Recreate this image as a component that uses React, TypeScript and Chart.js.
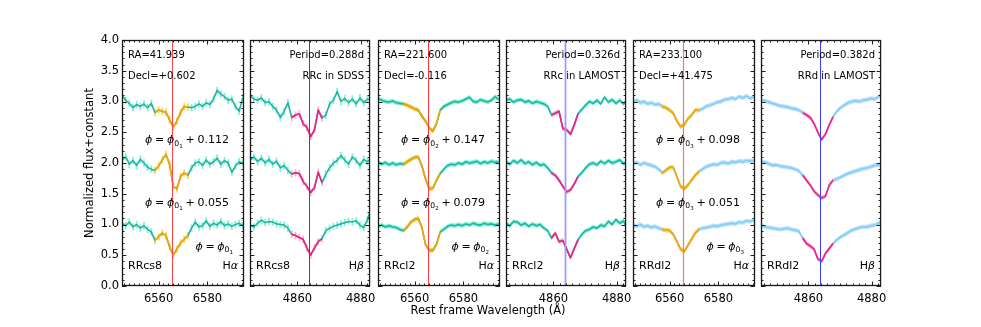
import React, { useEffect, useRef } from "react";
import { Chart, registerables } from "chart.js";

Chart.register(...registerables);

// ---------------- data ----------------
const HA_WAVE = [6545.0, 6546.5, 6548.0, 6549.5, 6551.0, 6552.5, 6554.0, 6555.5, 6557.0, 6558.5, 6560.0, 6561.5, 6563.0, 6564.5, 6566.0, 6567.5, 6569.0, 6570.5, 6572.0, 6573.5, 6575.0, 6576.5, 6578.0, 6579.5, 6581.0, 6582.5, 6584.0, 6585.5, 6587.0, 6588.5, 6590.0, 6591.5, 6593.0, 6594.5];
const HB_WAVE = [4845.0, 4846.2, 4847.4, 4848.6, 4849.8, 4851.0, 4852.2, 4853.4, 4854.6, 4855.8, 4857.0, 4858.2, 4859.4, 4860.6, 4861.8, 4863.0, 4864.2, 4865.4, 4866.6, 4867.8, 4869.0, 4870.2, 4871.4, 4872.6, 4873.8, 4875.0, 4876.2, 4877.4, 4878.6, 4879.8, 4881.0, 4882.2, 4883.4];
const HA_RANGE = [6545, 6595];
const HB_RANGE = [4845, 4883];
const HA_TICKS = [6560, 6580];
const HB_TICKS = [4860, 4880];
const Y_TICKS = [0, 0.5, 1, 1.5, 2, 2.5, 3, 3.5, 4];
const LINE_CENTERS = [6565.3, 4863.7];

// RRcs8 H-alpha (SDSS)
const P1_LOW = [1.02, 0.98, 1.04, 0.96, 1.00, 0.94, 0.98, 0.92, 0.88, 0.74, 0.80, 0.86, 0.82, 0.64, 0.50, 0.60, 0.70, 0.76, 0.82, 0.94, 1.04, 0.96, 0.98, 1.06, 0.97, 1.02, 0.99, 1.05, 0.98, 1.01, 0.97, 1.00, 1.02, 0.98];
const P1_MID = [2.05, 2.10, 1.98, 2.04, 1.96, 2.06, 2.00, 1.93, 1.90, 1.88, 1.95, 2.05, 2.14, 1.98, 1.62, 1.58, 1.78, 1.84, 1.80, 1.92, 2.00, 2.02, 1.96, 2.05, 1.98, 2.02, 2.08, 1.98, 2.04, 2.00, 1.85, 1.95, 2.02, 2.00];
const P1_TOP = [3.10, 3.02, 2.97, 2.90, 2.95, 2.92, 2.96, 2.90, 2.97, 2.82, 2.86, 2.84, 2.83, 2.70, 2.58, 2.68, 2.82, 2.92, 2.91, 2.90, 2.92, 2.96, 2.92, 2.98, 2.95, 3.04, 3.18, 3.12, 3.08, 3.02, 3.04, 2.92, 2.84, 3.06];
// RRcs8 H-beta (SDSS)
const P2_LOW = [0.99, 0.96, 1.02, 1.07, 1.03, 1.05, 1.04, 1.01, 1.00, 0.99, 0.94, 0.84, 0.82, 0.79, 0.76, 0.62, 0.50, 0.62, 0.72, 0.77, 0.90, 0.94, 0.97, 0.99, 1.01, 1.03, 1.05, 1.04, 1.06, 0.99, 0.95, 1.08, 1.28];
const P2_MID = [2.04, 2.10, 2.02, 2.08, 2.00, 2.06, 1.98, 2.03, 1.92, 1.96, 1.88, 1.82, 1.84, 1.83, 1.70, 1.62, 1.52, 1.60, 1.85, 1.68, 1.82, 1.92, 2.00, 2.04, 2.12, 2.05, 1.98, 2.10, 2.04, 1.96, 2.06, 2.02, 2.08];
const P2_TOP = [3.10, 3.04, 3.02, 3.06, 2.98, 3.00, 2.92, 2.86, 2.74, 2.84, 2.98, 2.74, 2.78, 2.80, 2.64, 2.58, 2.43, 2.54, 2.86, 2.73, 2.78, 2.96, 3.02, 3.16, 3.00, 3.05, 2.98, 3.04, 2.96, 3.06, 2.98, 3.04, 3.02];
// RRcl2 H-alpha (LAMOST)
const P3_LOW = [0.97, 0.99, 0.96, 0.98, 0.96, 0.95, 0.92, 0.90, 0.96, 1.04, 1.08, 1.10, 0.95, 0.67, 0.58, 0.58, 0.68, 0.88, 0.92, 0.97, 0.99, 0.98, 1.00, 0.98, 1.01, 0.99, 1.02, 1.00, 0.99, 1.02, 1.00, 1.01, 0.99, 1.01];
const P3_MID = [2.02, 1.98, 2.01, 1.97, 2.00, 1.97, 1.99, 1.98, 2.02, 2.06, 2.09, 2.10, 1.95, 1.74, 1.58, 1.59, 1.72, 1.83, 1.90, 1.96, 1.98, 1.97, 2.00, 1.98, 2.02, 2.00, 2.01, 2.03, 1.99, 2.02, 2.00, 2.03, 2.01, 2.02];
const P3_TOP = [3.05, 3.02, 3.00, 2.99, 3.01, 2.98, 2.97, 2.96, 2.94, 2.91, 2.88, 2.86, 2.76, 2.68, 2.57, 2.52, 2.64, 2.86, 2.92, 2.95, 2.98, 3.00, 2.99, 3.01, 3.04, 3.07, 3.00, 2.99, 3.03, 3.01, 2.99, 3.02, 3.08, 3.03];
// RRcl2 H-beta (LAMOST)
const P4_LOW = [1.02, 0.98, 1.05, 1.04, 0.99, 1.02, 0.97, 1.01, 0.98, 1.00, 0.94, 0.90, 0.78, 0.86, 0.72, 0.74, 0.60, 0.46, 0.61, 0.75, 0.84, 0.90, 0.92, 0.96, 0.94, 0.99, 0.97, 1.05, 1.00, 1.08, 1.02, 1.06, 0.93];
const P4_MID = [2.02, 1.98, 2.04, 2.00, 2.05, 1.99, 2.02, 1.97, 2.01, 1.96, 1.98, 1.92, 1.84, 1.80, 1.72, 1.62, 1.53, 1.56, 1.66, 1.78, 1.84, 1.92, 1.98, 2.00, 1.97, 2.03, 1.99, 2.04, 2.00, 2.02, 2.05, 1.99, 2.01];
const P4_TOP = [3.02, 3.04, 2.99, 3.02, 3.03, 2.99, 3.01, 2.97, 3.00, 2.98, 2.96, 2.92, 2.78, 2.81, 2.84, 2.56, 2.54, 2.47, 2.62, 2.80, 2.87, 2.94, 3.00, 2.97, 3.02, 2.96, 3.07, 2.99, 3.03, 2.97, 3.02, 2.96, 3.03];
// RRdl2 H-alpha (LAMOST)
const P5_LOW = [0.99, 0.97, 1.00, 0.96, 0.98, 0.95, 0.97, 0.94, 0.92, 0.91, 0.90, 0.84, 0.72, 0.60, 0.56, 0.66, 0.76, 0.86, 0.92, 0.94, 0.95, 0.96, 0.98, 0.97, 0.99, 1.00, 1.01, 1.02, 1.01, 1.04, 1.03, 1.06, 1.05, 1.07];
const P5_MID = [1.99, 2.01, 1.97, 2.00, 1.98, 1.96, 1.94, 1.90, 1.84, 1.88, 1.93, 1.93, 1.78, 1.62, 1.58, 1.64, 1.72, 1.80, 1.86, 1.90, 1.94, 1.96, 1.98, 1.97, 2.00, 2.01, 1.99, 2.02, 2.01, 2.03, 2.02, 2.04, 2.03, 2.04];
const P5_TOP = [3.00, 3.02, 2.98, 3.00, 2.96, 2.98, 2.95, 2.96, 2.92, 2.90, 2.86, 2.81, 2.68, 2.59, 2.62, 2.72, 2.78, 2.86, 2.86, 2.88, 2.92, 2.94, 2.96, 2.99, 3.00, 3.03, 3.04, 3.06, 3.04, 3.08, 3.06, 3.09, 3.05, 3.08];
// RRdl2 H-beta (LAMOST)
const P6_LOW = [0.99, 0.96, 0.95, 0.94, 0.93, 0.92, 0.93, 0.94, 0.92, 0.91, 0.89, 0.78, 0.69, 0.65, 0.60, 0.44, 0.40, 0.53, 0.61, 0.69, 0.75, 0.80, 0.83, 0.87, 0.91, 0.93, 0.95, 0.96, 0.96, 0.98, 0.99, 1.02, 1.05];
const P6_MID = [2.03, 2.01, 1.99, 1.96, 1.97, 1.95, 1.94, 1.93, 1.92, 1.90, 1.87, 1.80, 1.72, 1.64, 1.54, 1.48, 1.43, 1.46, 1.64, 1.72, 1.74, 1.77, 1.80, 1.83, 1.85, 1.87, 1.89, 1.91, 1.92, 1.94, 1.96, 1.97, 1.99];
const P6_TOP = [3.02, 3.01, 2.99, 2.97, 2.95, 2.93, 2.92, 2.91, 2.89, 2.88, 2.86, 2.82, 2.78, 2.74, 2.64, 2.50, 2.38, 2.47, 2.62, 2.75, 2.84, 2.90, 2.94, 2.98, 3.00, 3.01, 3.00, 3.02, 3.03, 3.05, 3.04, 3.08, 3.11];

const CORE_RANGES = [[6558.5, 6572.0], [4858.2, 4867.8], [6555.5, 6570.5], [4859.4, 4867.8], [6557.0, 6572.0], [4858.2, 4867.8]];
const FLUX_ERRORS = [0.06, 0.06, 0.035, 0.035, 0.035, 0.035];

const STAR_NAMES = ["RRcs8", "RRcs8", "RRcl2", "RRcl2", "RRdl2", "RRdl2"];
const LINE_GREEK = ["α", "β", "α", "β", "α", "β"];
const RA_LABELS = ["RA=41.939", "RA=221.600", "RA=233.100"];
const DECL_LABELS = ["Decl=+0.602", "Decl=-0.116", "Decl=+41.475"];
const PERIOD_LABELS = ["Period=0.288d", "Period=0.326d", "Period=0.382d"];
const CLASS_LABELS = ["RRc in SDSS", "RRc in LAMOST", "RRd in LAMOST"];
const PHASE_SUBS = ["1", "2", "3"];
const PHASE_OFFSETS = [["0.112", "0.055"], ["0.147", "0.079"], ["0.098", "0.051"]];
const Y_TITLE = "Normalized flux+constant";
const X_TITLE = "Rest frame Wavelength (Å)";

// ---------------- style / layout ----------------
const FAM = "'DejaVu Sans', sans-serif";
const TEAL = { line: "#1fb5a4", err: "#84f2d6" };
const SKY = { line: "#88cdf6", err: "#b6e0fa" };
const ORANGE = { line: "#ffa200", err: "#ffd84a" };
const PINK = { line: "#ff1a8c", err: "#ffb3c8" };
const PANEL_LEFTS = [122, 250, 378, 506, 633, 761];
const PLOT_W = 122;
const LEFT_M = 62;
const RIGHT_M = 10;
const CANVAS_H = 327;
const TOP_M = 40;
const BOTTOM_M = 41;
const TICK_FONT = 11.5;
const TEXT_Y = { info1: 3.75, info2: 3.405, phi1: 2.385, phi2: 1.37, phi3: 0.65, bottom: 0.315 };

const PANELS = [0, 1, 2, 3, 4, 5].map((i) => {
  const isHa = i % 2 === 0;
  const series = [
    [P1_LOW, P1_MID, P1_TOP], [P2_LOW, P2_MID, P2_TOP], [P3_LOW, P3_MID, P3_TOP],
    [P4_LOW, P4_MID, P4_TOP], [P5_LOW, P5_MID, P5_TOP], [P6_LOW, P6_MID, P6_TOP],
  ][i];
  const refStyles = [
    { color: "#ff4646", width: 1 }, { color: "#3a3aff", width: 1 }, { color: "#ff3a3a", width: 1 },
    { color: "#9a9aff", width: 1.8 }, { color: "#f07878", width: 1.2 }, { color: "#3a3aff", width: 1 },
  ];
  return {
    idx: i,
    left: PANEL_LEFTS[i],
    wave: isHa ? HA_WAVE : HB_WAVE,
    range: isHa ? HA_RANGE : HB_RANGE,
    ticks: isHa ? HA_TICKS : HB_TICKS,
    center: isHa ? LINE_CENTERS[0] : LINE_CENTERS[1],
    series,
    core: CORE_RANGES[i],
    err: FLUX_ERRORS[i],
    cont: i >= 4 ? SKY : TEAL,
    coreStyle: isHa ? ORANGE : PINK,
    band: i >= 2,
    ref: refStyles[i],
    isHa,
  };
});

function drawPhase(ctx: any, xPos: number, yPos: number, sub: string, offset: string | null, align: string) {
  const size = 11;
  const gap = size * 0.25;
  const pieces: any[] = [
    { t: "ϕ", f: `italic ${size}px ${FAM}`, dy: 0, pad: gap },
    { t: "=", f: `${size}px ${FAM}`, dy: 0, pad: gap },
    { t: "ϕ", f: `italic ${size}px ${FAM}`, dy: 0, pad: 0 },
    { t: "0", f: `${(size * 0.7).toFixed(1)}px ${FAM}`, dy: size * 0.22, pad: 0 },
    { t: sub, f: `${(size * 0.5).toFixed(1)}px ${FAM}`, dy: size * 0.4, pad: gap },
  ];
  if (offset) {
    pieces.push({ t: "+", f: `${size}px ${FAM}`, dy: 0, pad: gap });
    pieces.push({ t: offset, f: `${size}px ${FAM}`, dy: 0, pad: 0 });
  } else {
    pieces[pieces.length - 1].pad = 0;
  }
  let total = 0;
  pieces.forEach((p) => {
    ctx.font = p.f;
    p.w = ctx.measureText(p.t).width;
    total += p.w + p.pad;
  });
  let x = align === "center" ? xPos - total / 2 : xPos - total;
  ctx.textAlign = "left";
  ctx.textBaseline = "alphabetic";
  const base = yPos + size * 0.36;
  pieces.forEach((p) => {
    ctx.font = p.f;
    ctx.fillText(p.t, x, base + p.dy);
    x += p.w + p.pad;
  });
}

function makeDeco(p: any) {
  return {
    id: "deco" + p.idx,
    beforeDatasetsDraw(chart: any) {
      const { ctx, chartArea: a, scales } = chart;
      const xs = scales.x;
      const ys = scales.y;
      ctx.save();
      ctx.beginPath();
      ctx.rect(a.left, a.top, a.right - a.left, a.bottom - a.top);
      ctx.clip();
      const inCore = (w: number) => w >= p.core[0] - 1e-6 && w <= p.core[1] + 1e-6;
      p.series.forEach((vals: number[]) => {
        if (p.band) {
          const drawBand = (idxs: number[], color: string) => {
            if (!idxs.length) return;
            ctx.beginPath();
            idxs.forEach((j, k) => {
              const px = xs.getPixelForValue(p.wave[j]);
              const py = ys.getPixelForValue(vals[j] + p.err);
              if (k === 0) ctx.moveTo(px, py);
              else ctx.lineTo(px, py);
            });
            for (let k = idxs.length - 1; k >= 0; k--) {
              const j = idxs[k];
              ctx.lineTo(xs.getPixelForValue(p.wave[j]), ys.getPixelForValue(vals[j] - p.err));
            }
            ctx.closePath();
            ctx.fillStyle = color;
            ctx.fill();
          };
          drawBand(p.wave.map((_: number, j: number) => j), p.cont.err);
          drawBand(p.wave.map((w: number, j: number) => (inCore(w) ? j : -1)).filter((j: number) => j >= 0), p.coreStyle.err);
        } else {
          ctx.lineWidth = 1.8;
          p.wave.forEach((w: number, j: number) => {
            const px = xs.getPixelForValue(w);
            ctx.strokeStyle = inCore(w) ? p.coreStyle.err : p.cont.err;
            ctx.beginPath();
            ctx.moveTo(px, ys.getPixelForValue(vals[j] - p.err));
            ctx.lineTo(px, ys.getPixelForValue(vals[j] + p.err));
            ctx.stroke();
          });
        }
      });
      ctx.restore();
    },
    afterDatasetsDraw(chart: any) {
      const { ctx, chartArea: a, scales } = chart;
      const xs = scales.x;
      const ys = scales.y;
      ctx.save();
      // reference line
      const cx = Math.round(xs.getPixelForValue(p.center)) + 0.5;
      ctx.strokeStyle = p.ref.color;
      ctx.lineWidth = p.ref.width;
      ctx.beginPath();
      ctx.moveTo(cx, a.top);
      ctx.lineTo(cx, a.bottom);
      ctx.stroke();
      // inward ticks on all sides
      ctx.strokeStyle = "#222";
      ctx.lineWidth = 1;
      const seg = (x1: number, y1: number, x2: number, y2: number) => {
        ctx.beginPath();
        ctx.moveTo(x1, y1);
        ctx.lineTo(x2, y2);
        ctx.stroke();
      };
      for (let w = Math.ceil(p.range[0] / 2) * 2; w <= p.range[1]; w += 2) {
        const px = Math.round(xs.getPixelForValue(w)) + 0.5;
        const len = w % 20 === 0 ? 4.5 : 2.5;
        seg(px, a.bottom, px, a.bottom - len);
        seg(px, a.top, px, a.top + len);
      }
      for (let i = 0; i <= 40; i++) {
        const py = Math.round(ys.getPixelForValue(i / 10)) + 0.5;
        const len = i % 5 === 0 ? 4.5 : 2.5;
        seg(a.left, py, a.left + len, py);
        seg(a.right, py, a.right - len, py);
      }
      // frame
      ctx.strokeStyle = "#1a1a1a";
      ctx.lineWidth = 1.3;
      ctx.strokeRect(a.left + 0.5, a.top + 0.5, a.right - a.left - 1, a.bottom - a.top - 1);
      // annotations
      ctx.fillStyle = "#000";
      ctx.textBaseline = "middle";
      ctx.font = `10px ${FAM}`;
      const pair = Math.floor(p.idx / 2);
      if (p.isHa) {
        ctx.textAlign = "left";
        ctx.fillText(RA_LABELS[pair], a.left + 6, ys.getPixelForValue(TEXT_Y.info1));
        ctx.fillText(DECL_LABELS[pair], a.left + 6, ys.getPixelForValue(TEXT_Y.info2));
        const cxText = a.left + 65;
        drawPhase(ctx, cxText, ys.getPixelForValue(TEXT_Y.phi1), PHASE_SUBS[pair], PHASE_OFFSETS[pair][0], "center");
        drawPhase(ctx, cxText, ys.getPixelForValue(TEXT_Y.phi2), PHASE_SUBS[pair], PHASE_OFFSETS[pair][1], "center");
        drawPhase(ctx, a.right - 11, ys.getPixelForValue(TEXT_Y.phi3), PHASE_SUBS[pair], null, "right");
      } else {
        ctx.textAlign = "right";
        ctx.fillText(PERIOD_LABELS[pair], a.right - 6, ys.getPixelForValue(TEXT_Y.info1));
        ctx.fillText(CLASS_LABELS[pair], a.right - 6, ys.getPixelForValue(TEXT_Y.info2));
      }
      const by = ys.getPixelForValue(TEXT_Y.bottom);
      ctx.textBaseline = "middle";
      ctx.textAlign = "left";
      ctx.font = `11px ${FAM}`;
      ctx.fillText(STAR_NAMES[p.idx], a.left + 6, by);
      ctx.font = `italic 11px ${FAM}`;
      const gw = ctx.measureText(LINE_GREEK[p.idx]).width;
      ctx.font = `11px ${FAM}`;
      const hw = ctx.measureText("H").width;
      ctx.fillText("H", a.right - 6 - gw - hw, by);
      ctx.font = `italic 11px ${FAM}`;
      ctx.fillText(LINE_GREEK[p.idx], a.right - 6 - gw, by);
      ctx.restore();
    },
  };
}

function Panel({ spec }: { spec: any }) {
  const ref = useRef<HTMLCanvasElement>(null);
  useEffect(() => {
    const p = spec;
    const datasets: any[] = [];
    p.series.forEach((vals: number[]) => {
      const pts = p.wave.map((w: number, j: number) => ({ x: w, y: vals[j] }));
      const corePts = pts.filter((pt: any) => pt.x >= p.core[0] - 1e-6 && pt.x <= p.core[1] + 1e-6);
      datasets.push({ data: corePts, borderColor: p.coreStyle.line, borderWidth: 1.6, pointRadius: 0, order: 0, borderJoinStyle: "round" });
      datasets.push({ data: pts, borderColor: p.cont.line, borderWidth: 1.6, pointRadius: 0, order: 1, borderJoinStyle: "round" });
    });
    const first = p.idx === 0;
    const chart = new Chart(ref.current as HTMLCanvasElement, {
      type: "line",
      data: { datasets },
      options: {
        responsive: false,
        animation: false,
        events: [],
        layout: { padding: { left: 0, right: RIGHT_M, top: TOP_M, bottom: 0 } },
        plugins: { legend: { display: false }, tooltip: { enabled: false }, title: { display: false } },
        scales: {
          x: {
            type: "linear",
            min: p.range[0],
            max: p.range[1],
            bounds: "data",
            grid: { display: false, drawTicks: false },
            border: { display: false },
            afterBuildTicks: (s: any) => {
              s.ticks = p.ticks.map((v: number) => ({ value: v }));
            },
            ticks: {
              autoSkip: false,
              maxRotation: 0,
              padding: 6,
              color: "#000",
              font: { family: FAM, size: TICK_FONT },
              callback: (v: any) => String(v),
            },
            afterFit: (s: any) => {
              s.height = BOTTOM_M;
            },
          },
          y: {
            type: "linear",
            min: 0,
            max: 4,
            grid: { display: false, drawTicks: false },
            border: { display: false },
            afterBuildTicks: (s: any) => {
              s.ticks = Y_TICKS.map((v: number) => ({ value: v }));
            },
            ticks: {
              display: first,
              padding: 3,
              color: "#000",
              font: { family: FAM, size: TICK_FONT },
              callback: (v: any) => Number(v).toFixed(1),
            },
            title: {
              display: first,
              text: Y_TITLE,
              color: "#000",
              font: { family: FAM, size: 11.5 },
              padding: { top: 23, bottom: 0 },
            },
            afterFit: (s: any) => {
              s.width = LEFT_M;
            },
          },
        },
      } as any,
      plugins: [makeDeco(p)],
    });
    return () => chart.destroy();
  }, [spec]);
  const w = LEFT_M + PLOT_W + RIGHT_M;
  return (
    <canvas
      ref={ref}
      width={w}
      height={CANVAS_H}
      style={{ position: "absolute", left: spec.left - LEFT_M, top: 0, width: w, height: CANVAS_H }}
    />
  );
}

export default function App() {
  return (
    <div style={{ position: "fixed", left: 0, top: 0, width: 981, height: 327, background: "#fff", overflow: "hidden" }}>
      {PANELS.map((p) => (
        <Panel key={p.idx} spec={p} />
      ))}
      <div
        style={{
          position: "absolute",
          left: 288,
          width: 400,
          top: 303,
          textAlign: "center",
          fontFamily: FAM,
          fontSize: 11.5,
          lineHeight: "14px",
          color: "#000",
          whiteSpace: "nowrap",
        }}
      >
        {X_TITLE}
      </div>
    </div>
  );
}
